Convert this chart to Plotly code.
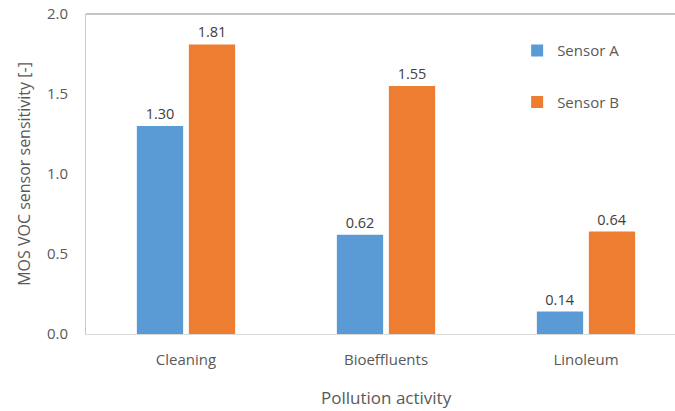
import plotly.graph_objects as go

categories = ["Cleaning", "Bioeffluents", "Linoleum"]
sensor_a = [1.30, 0.62, 0.14]
sensor_b = [1.81, 1.55, 0.64]
series_names = ["Sensor A", "Sensor B"]
y_ticks = [0.0, 0.5, 1.0, 1.5, 2.0]

FONT = "Open Sans"
TXT = "#595959"

fig = go.Figure()
for name, vals, color, grp in [
    (series_names[0], sensor_a, "#5B9BD5", "a"),
    (series_names[1], sensor_b, "#ED7D31", "b"),
]:
    fig.add_trace(go.Bar(
        x=categories, y=vals, name=name, legendgroup=grp,
        marker=dict(color=color, line=dict(width=0)),
        text=[f"{v:.2f}" for v in vals], textposition="outside",
        textfont=dict(family=FONT, size=14.5, color="#404040"),
        cliponaxis=False,
    ))

fig.update_layout(
    width=675, height=411,
    margin=dict(l=86, r=0, t=14, b=77),
    plot_bgcolor="white", paper_bgcolor="white",
    font=dict(family=FONT, color=TXT),
    barmode="group", bargap=0.48, bargroupgap=0.11,
    showlegend=True,
    legend=dict(
        x=0.732, y=0.937, xanchor="left", yanchor="top",
        font=dict(family=FONT, size=15, color=TXT),
        tracegroupgap=29, itemwidth=30, bgcolor="rgba(0,0,0,0)",
    ),
    xaxis=dict(
        range=[-0.5, 2.445], showline=True, linecolor="#d9d9d9", linewidth=1,
        ticks="", ticklabelstandoff=12,
        tickfont=dict(family=FONT, size=15, color=TXT),
        showgrid=False, zeroline=False,
    ),
    yaxis=dict(
        range=[0, 2.0], tickvals=y_ticks, ticktext=[f"{t:.1f}" for t in y_ticks],
        showline=True, linecolor="#c8c8c8", linewidth=1,
        ticks="", ticklabelstandoff=14,
        tickfont=dict(family=FONT, size=15, color=TXT),
        showgrid=False, zeroline=False,
        title=dict(text="MOS VOC sensor sensitivity [-]", standoff=12,
                   font=dict(family=FONT, size=16, color=TXT)),
    ),
    shapes=[dict(type="line", xref="paper", yref="paper", x0=0, x1=1, y0=1, y1=1,
                 line=dict(color="#8c8c8c", width=1))],
    annotations=[dict(text="Pollution activity", xref="paper", yref="paper",
                      x=(386 - 86) / 589, y=-63 / 320, xanchor="center", yanchor="middle",
                      showarrow=False, font=dict(family=FONT, size=17, color=TXT))],
)

fig.write_html("out.html")
